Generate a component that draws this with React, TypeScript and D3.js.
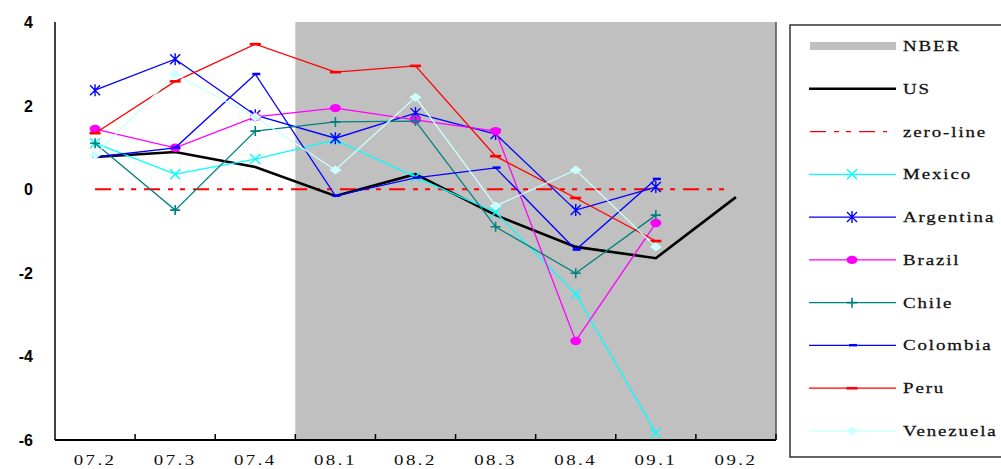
import React, { useRef, useEffect } from 'react';
import * as d3 from 'd3';

const quarters = ['07.2', '07.3', '07.4', '08.1', '08.2', '08.3', '08.4', '09.1', '09.2'];
const nberStart = '08.1';
const yTicks = [4, 2, 0, -2, -4, -6];

const us = [0.77, 0.89, 0.53, -0.16, 0.36, -0.62, -1.38, -1.65, -0.19];
const mexico = [1.1, 0.36, 0.72, 1.18, 0.29, -0.55, -2.51, -5.83];
const argentina = [2.37, 3.11, 1.77, 1.22, 1.82, 1.32, -0.5, 0.05];
const brazil = [1.44, 0.99, 1.73, 1.94, 1.66, 1.39, -3.63, -0.81];
const chile = [1.1, -0.5, 1.39, 1.61, 1.63, -0.9, -2.01, -0.62];
const colombia = [0.77, 0.99, 2.75, -0.16, 0.27, 0.51, -1.45, 0.24];
const peru = [1.34, 2.58, 3.47, 2.8, 2.95, 0.79, -0.21, -1.24];
const venezuela = [0.82, 2.75, 1.73, 0.46, 2.2, -0.4, 0.46, -1.38];

type Marker = 'none' | 'x' | 'star' | 'circle' | 'plus' | 'dash' | 'bar' | 'diamond';

const series: { name: string; values: number[]; color: string; width: number; marker: Marker }[] = [
  { name: 'US', values: us, color: '#000000', width: 2.6, marker: 'none' },
  { name: 'Mexico', values: mexico, color: '#00ffff', width: 1.3, marker: 'x' },
  { name: 'Argentina', values: argentina, color: '#0000ff', width: 1.3, marker: 'star' },
  { name: 'Brazil', values: brazil, color: '#ff00ff', width: 1.3, marker: 'circle' },
  { name: 'Chile', values: chile, color: '#008080', width: 1.3, marker: 'plus' },
  { name: 'Colombia', values: colombia, color: '#0000ff', width: 1.3, marker: 'dash' },
  { name: 'Peru', values: peru, color: '#ff0000', width: 1.3, marker: 'bar' },
  { name: 'Venezuela', values: venezuela, color: '#ccffff', width: 1.3, marker: 'diamond' },
];

const W = 1001;
const H = 469;
const margin = { left: 55, right: 225, top: 22, bottom: 29 };
const stretch = 1.35; // the original text is drawn wide
const zeroDash = '16,8,5,7,5,8';

function drawMarker(g: d3.Selection<SVGGElement, unknown, null, undefined>, m: Marker, x: number, y: number, color: string) {
  const s = 5;
  if (m === 'x' || m === 'star') {
    g.append('path').attr('d', `M${x - s},${y - s}L${x + s},${y + s}M${x - s},${y + s}L${x + s},${y - s}` + (m === 'star' ? `M${x},${y - s - 1}L${x},${y + s + 1}` : ''))
      .attr('stroke', color).attr('stroke-width', 1.4).attr('fill', 'none');
  } else if (m === 'circle') {
    g.append('ellipse').attr('cx', x).attr('cy', y).attr('rx', 5.5).attr('ry', 4.2).attr('fill', color);
  } else if (m === 'plus') {
    g.append('path').attr('d', `M${x - s},${y}L${x + s},${y}M${x},${y - s}L${x},${y + s}`)
      .attr('stroke', color).attr('stroke-width', 1.6).attr('fill', 'none');
  } else if (m === 'dash') {
    g.append('rect').attr('x', x - 3).attr('y', y - 1.5).attr('width', 8).attr('height', 2.5).attr('fill', color);
  } else if (m === 'bar') {
    g.append('rect').attr('x', x - 5.5).attr('y', y - 1.3).attr('width', 11).attr('height', 2.6).attr('fill', color);
  } else if (m === 'diamond') {
    g.append('path').attr('d', `M${x - 6},${y}L${x},${y - 4.5}L${x + 6},${y}L${x},${y + 4.5}Z`).attr('fill', color);
  }
}

const App: React.FC = () => {
  const svgRef = useRef<SVGSVGElement>(null);

  useEffect(() => {
    if (!svgRef.current) return;
    const svg = d3.select(svgRef.current);
    svg.selectAll('*').remove();

    const x = d3.scaleBand<string>().domain(quarters).range([margin.left, W - margin.right]);
    const y = d3.scaleLinear().domain([-6, 4]).range([H - margin.bottom, margin.top]);
    const cx = (i: number) => (x(quarters[i]) as number) + x.bandwidth() / 2;

    // NBER recession shading
    const x0 = x(nberStart) as number;
    svg.append('rect')
      .attr('x', x0).attr('y', margin.top)
      .attr('width', W - margin.right - x0).attr('height', H - margin.bottom - margin.top)
      .attr('fill', '#c0c0c0');
    svg.append('line')
      .attr('x1', W - margin.right).attr('x2', W - margin.right)
      .attr('y1', margin.top).attr('y2', H - margin.bottom)
      .attr('stroke', '#555').attr('stroke-width', 1.5);

    // zero line
    svg.append('line')
      .attr('x1', cx(0)).attr('x2', cx(quarters.length - 1) - 8)
      .attr('y1', y(0)).attr('y2', y(0))
      .attr('stroke', '#ff0000').attr('stroke-width', 2)
      .attr('stroke-dasharray', zeroDash);

    // axes
    svg.append('line')
      .attr('x1', margin.left).attr('x2', margin.left)
      .attr('y1', margin.top).attr('y2', H - margin.bottom)
      .attr('stroke', '#000').attr('stroke-width', 1.5);
    svg.append('line')
      .attr('x1', margin.left).attr('x2', W - margin.right)
      .attr('y1', H - margin.bottom).attr('y2', H - margin.bottom)
      .attr('stroke', '#000').attr('stroke-width', 2);
    quarters.forEach((q) => {
      const xe = (x(q) as number) + x.bandwidth();
      svg.append('line')
        .attr('x1', xe).attr('x2', xe)
        .attr('y1', H - margin.bottom).attr('y2', H - margin.bottom - 6)
        .attr('stroke', '#000').attr('stroke-width', 1.5);
    });

    svg.append('g').selectAll('text').data(quarters).join('text')
      .attr('transform', (d, i) => `translate(${cx(i)},${H - 4}) scale(${stretch},1)`)
      .attr('text-anchor', 'middle')
      .attr('font-family', 'Liberation Serif, serif')
      .attr('font-size', 14)
      .attr('letter-spacing', 1.8)
      .attr('fill', '#111')
      .text((d) => d);

    svg.append('g').selectAll('text').data(yTicks).join('text')
      .attr('x', 33)
      .attr('y', (d) => y(d) + 6)
      .attr('text-anchor', 'end')
      .attr('font-family', 'Liberation Sans, Arial, sans-serif')
      .attr('font-weight', 'bold')
      .attr('font-size', 16)
      .text((d) => `${d}`);

    // series lines
    series.forEach((s) => {
      const line = d3.line<number>().x((d, i) => cx(i)).y((d) => y(d));
      svg.append('path')
        .attr('d', line(s.values) || '')
        .attr('fill', 'none')
        .attr('stroke', s.color)
        .attr('stroke-width', s.width)
        .attr('stroke-linejoin', 'miter');
      const g = svg.append('g');
      s.values.forEach((v, i) => drawMarker(g as any, s.marker, cx(i), y(v), s.color));
    });

    // legend
    const lg = svg.append('g');
    lg.append('rect')
      .attr('x', 790).attr('y', 25).attr('width', 230).attr('height', 432)
      .attr('fill', '#fff').attr('stroke', '#333').attr('stroke-width', 1.5);
    const items: { name: string; kind: string; color: string; width: number; marker: Marker }[] = [
      { name: 'NBER', kind: 'rect', color: '#c0c0c0', width: 0, marker: 'none' },
      { name: 'US', kind: 'line', color: '#000', width: 2.6, marker: 'none' },
      { name: 'zero-line', kind: 'dash', color: '#ff0000', width: 1.2, marker: 'none' },
      ...series.slice(1).map((s) => ({ name: s.name, kind: 'line', color: s.color, width: s.width, marker: s.marker })),
    ];
    const rowY = d3.scaleLinear().domain([0, items.length - 1]).range([46, 431]);
    items.forEach((it, i) => {
      const yy = rowY(i);
      if (it.kind === 'rect') {
        lg.append('rect').attr('x', 810).attr('y', yy - 4).attr('width', 86).attr('height', 8).attr('fill', it.color);
      } else {
        lg.append('line').attr('x1', it.kind === 'dash' ? 810 : 809).attr('x2', it.kind === 'dash' ? 887 : 896).attr('y1', yy).attr('y2', yy)
          .attr('stroke', it.color).attr('stroke-width', it.width)
          .attr('stroke-dasharray', it.kind === 'dash' ? zeroDash : null);
        if (it.marker !== 'none') drawMarker(lg as any, it.marker, 852, yy, it.color);
      }
      lg.append('text')
        .attr('transform', `translate(903,${yy + 5}) scale(${stretch},1)`)
        .attr('font-family', 'Liberation Serif, serif')
        .attr('font-size', 14)
        .attr('letter-spacing', 1.4)
        .attr('fill', '#111')
        .attr('stroke', '#111')
        .attr('stroke-width', 0.25)
        .text(it.name);
    });
  }, []);

  return (
    <div style={{ position: 'fixed', left: 0, top: 0 }}>
      <svg ref={svgRef} width={W} height={H} style={{ display: 'block', background: '#fff' }} />
    </div>
  );
};

export default App;
